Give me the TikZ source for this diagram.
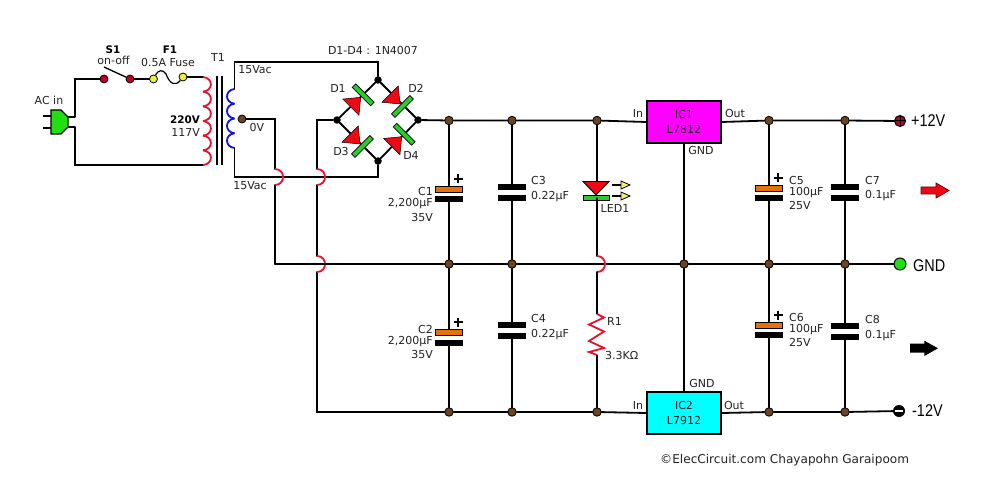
\documentclass[tikz,border=0pt]{standalone}
\usepackage{fontspec}
\setmainfont{DejaVu Sans}
\newfontfamily\narrowfont{Liberation Sans}
\definecolor{brn}{HTML}{6B4423}
\definecolor{capor}{HTML}{E8710A}
\definecolor{redc}{HTML}{E8102A}
\definecolor{grn}{HTML}{22E010}
\definecolor{dgrn}{HTML}{2FC82F}
\definecolor{darkred}{HTML}{C00020}
\definecolor{yel}{HTML}{EFEF40}
\definecolor{lbl}{HTML}{222222}
\definecolor{icm}{HTML}{FF00FF}
\definecolor{icc}{HTML}{00FFFF}
\definecolor{bluec}{HTML}{1010E0}
\definecolor{trired}{HTML}{EE0A14}
\tikzset{
  x=1pt,y=-1pt,
  wire/.style={line width=1.8pt,black,line cap=round},
  redwire/.style={line width=1.8pt,redc},
  bluewire/.style={line width=1.8pt,bluec},
  dotb/.style={circle,fill=brn,draw=black,line width=.8pt,minimum size=8.5pt,inner sep=0pt},
  dotk/.style={circle,fill=black,minimum size=7.5pt,inner sep=0pt},
  dotr/.style={circle,fill=darkred,draw=black,line width=.8pt,minimum size=8pt,inner sep=0pt},
  doty/.style={circle,fill=yel,draw=black,line width=.8pt,minimum size=8pt,inner sep=0pt},
  lab/.style={inner sep=0pt,font=\fontsize{11}{12}\selectfont,text=lbl},
  labb/.style={inner sep=0pt,font=\fontsize{10.4}{12}\bfseries\selectfont,text=black},
  big/.style={inner sep=0pt,anchor=west,font=\narrowfont\fontsize{17}{19}\selectfont,text=black,xscale=.85},
  platek/.style={fill=black,minimum width=27.5pt,minimum height=5.5pt,inner sep=0pt},
  plateo/.style={fill=capor,draw=black,line width=.9pt,minimum width=27pt,minimum height=6pt,inner sep=0pt},
  icbox/.style={draw=black,line width=1.6pt,minimum width=74pt,minimum height=42pt,inner sep=0pt,align=center,
    font=\fontsize{11}{15.5}\selectfont,text=lbl},
  dbar/.style={draw=black,fill=dgrn,line width=.7pt},
  dtri/.style={draw=black,fill=trired,line width=.5pt},
  pt/.style={inner sep=0pt,minimum size=0pt},
}
\newcommand{\mydiode}[2]{% tip position, screen angle of forward current
  \begin{scope}[shift={(#1)},rotate=#2]
    \path[dtri] (-14,-11.5) -- (-14,11.5) -- (0,0) -- cycle;
    \path[dbar] (1,-13) rectangle (6,13);
  \end{scope}}
\newcommand{\hoparc}[2]{\draw[redwire] (#1,#2) .. controls (#1+10.7,#2) and (#1+10.7,#2+16) .. (#1,#2+16);}
\begin{document}
\begin{tikzpicture}
\useasboundingbox (0,0) rectangle (1000,486);
% junction nodes
\node[dotk] (bt) at (378,80) {};
\node[dotk] (bl) at (337,120) {};
\node[dotk] (br) at (418,120) {};
\node[dotk] (bb) at (378,161) {};
\foreach \n/\x in {a1/449,a2/512,a3/597,a4/769,a5/845}{\node[dotb] (\n) at (\x,120.5) {};}
\foreach \n/\x in {g0/449,g1/512,g2/684,g3/769,g4/845}{\node[dotb] (\n) at (\x,264) {};}
\foreach \n/\x in {b1/449,b2/512,b3/597,b4/769,b5/845}{\node[dotb] (\n) at (\x,412) {};}
\node[icbox,fill=icm] (ic1) at (684,122) {IC1\\L7812};
\node[icbox,fill=icc] (ic2) at (684,413) {IC2\\L7912};
% terminals
\node[circle,fill=darkred,draw=black,line width=1pt,minimum size=11pt,inner sep=0pt] (tp) at (900,121) {};
\node[circle,fill=grn,draw=black,line width=1pt,minimum size=12pt,inner sep=0pt] (tg) at (900,264) {};
\node[circle,fill=black,minimum size=12pt,inner sep=0pt] (tm) at (899,411) {};
% switch, fuse
\node[dotr] (s1a) at (104,79) {};
\node[dotr] (s1b) at (130,79) {};
\node[doty] (f1a) at (153.5,79) {};
\node[doty] (f1b) at (183,77) {};
\coordinate (leverend) at (104,67);
\coordinate (pt) at (203,77);
\coordinate (pb) at (203,165);
\coordinate (pl1) at (75,117);
\coordinate (pl2) at (75,127);
\coordinate (st) at (234.5,89);
\coordinate (sb) at (234.5,148);
\node[circle,fill=brn,draw=black,line width=.8pt,minimum size=8pt,inner sep=0pt] (ct) at (242,119) {};
% plug
\draw[line width=1.4pt] (43,116) -- (51,116) (43,128) -- (51,128) (68,117) -- (pl1) (68,127) -- (pl2);
\path[fill=grn,draw=black,line width=1.4pt] (51,110) -- (61,110) -- (68,117) -- (68,127) -- (61,134) -- (51,134) -- cycle;
% primary wiring
\draw[wire] (pl1) -- (75,79) -- (s1a);
\draw[wire] (pl2) -- (75,165) -- (pb);
\draw[wire] (s1b) -- (f1a);
\draw[wire] (f1b) -- (pt);
\draw[line width=1.3pt] (leverend) -- (s1b);
\draw[line width=1.2pt] (f1a) .. controls (158,70) and (163,69) .. (166,74) .. controls (170,85) and (176,86) .. (f1b);
% primary coil
\foreach \i in {0,...,5}{
  \draw[redwire] (203,{77+\i*14.67}) .. controls (213.5,{78+\i*14.67}) and (213.5,{76+(\i+1)*14.67}) .. (203,{77+(\i+1)*14.67});
}
% core
\draw[line width=1.5pt] (217,76) -- (217,165) (222,76) -- (222,165);
% secondary coil
\foreach \i in {0,...,3}{
  \draw[bluewire] (234.5,{89+\i*14.75}) .. controls (224.5,{90+\i*14.75}) and (224.5,{88+(\i+1)*14.75}) .. (234.5,{89+(\i+1)*14.75});
}
% secondary wiring
\draw[wire] (st) -- (234.5,62) -- (378,62) -- (bt);
\draw[wire] (sb) -- (234.5,177) -- (378,177) -- (bb);
\draw[wire] (ct) -- (275,119) -- (275,169);
\draw[wire] (275,185) -- (275,264);
\hoparc{275}{169}
\draw[wire] (bl) -- (317,120) -- (317,169);
\draw[wire] (317,185) -- (317,256);
\draw[wire] (317,272) -- (317,412) -- (b1);
\hoparc{317}{169}
\hoparc{317}{256}
\draw[wire] (275,264) -- (g0) -- (g1) -- (g2) -- (g3) -- (g4) -- (tg);
% bridge
\draw[wire] (bt) -- (bl) -- (bb) -- (br) -- (bt);
\mydiode{360.7,97.3}{45}
\mydiode{400,104}{-45}
\mydiode{360,144}{-45}
\mydiode{401.7,136.7}{45}
% rails
\draw[wire] (br) -- (a1) -- (a2) -- (a3) -- (ic1.west);
\draw[wire] (ic1.east) -- (a4) -- (a5) -- (tp);
\draw[wire] (b1) -- (b2) -- (b3) -- (ic2.west);
\draw[wire] (ic2.east) -- (b4) -- (b5) -- (tm);
\draw[wire] (ic1.south) -- (g2) -- (ic2.north);
\draw[black,line width=1pt] (tp.north) -- (tp.south) (tp.west) -- (tp.east);
\draw[white,line width=1.6pt] (895,411) -- (903,411);
% capacitors: plates are nodes
\foreach \n/\x/\ya/\yb/\ra/\rb in {c1/449/189/199/a1/g0,c2/449/332/343/g0/b1,c5/769/188/198/a4/g3,c6/769/325/335/g3/b4}{
  \node[plateo] (\n p) at (\x,\ya) {};
  \node[platek] (\n n) at (\x,\yb) {};
  \draw[wire] (\ra) -- (\n p);
  \draw[wire] (\n n) -- (\rb);
}
\foreach \n/\x/\ya/\yb/\ra/\rb in {c3/512/187/198/a2/g1,c4/512/325/336/g1/b2,c7/845/187/198/a5/g4,c8/845/326/337/g4/b5}{
  \node[platek] (\n p) at (\x,\ya) {};
  \node[platek] (\n n) at (\x,\yb) {};
  \draw[wire] (\ra) -- (\n p);
  \draw[wire] (\n n) -- (\rb);
}
\foreach \x/\y in {458/179,458/322,778/178,778/315}{
  \draw[line width=1.8pt] (\x-4.5,\y) -- (\x+4.5,\y) (\x,\y-4.5) -- (\x,\y+4.5);
}
% LED
\node[pt] (ledt) at (597,181) {};
\node[pt] (ledb) at (597,198) {};
\coordinate (hopled) at (597,256);
\draw[wire] (a3) -- (ledt);
\path[dtri,line width=.9pt] (583,181.5) -- (609,181.5) -- (596,195) -- cycle;
\path[draw=black,fill=dgrn,line width=.9pt] (583,195.5) rectangle (609,200);
\draw[wire] (ledb) -- (hopled);
\hoparc{597}{256}
\foreach \y in {185,196}{
  \draw[line width=1.1pt] (612,\y) -- (621,\y);
  \path[fill=yel!80!white,draw=black,line width=.8pt] (621,\y-4) -- (630,\y) -- (621,\y+4) -- cycle;
}
% R1
\node[pt] (rt) at (597,314) {};
\node[pt] (rb) at (597,355) {};
\draw[wire] (597,272) -- (rt);
\draw[redwire,line join=miter] (rt) -- (604,317.5) -- (589,324.5) -- (604,331.5) -- (589,341) -- (604,348) -- (589,352) -- (rb);
\draw[wire] (rb) -- (b3);
% output arrows
\path[fill=trired,draw=black!60!red,line width=.7pt] (921,187) -- (936,187) -- (936,183) -- (949,190.5) -- (936,198) -- (936,194) -- (921,194) -- cycle;
\path[fill=black] (910,343.7) -- (924.3,343.7) -- (924.3,340.7) -- (938,348.3) -- (924.3,356) -- (924.3,352.7) -- (910,352.7) -- cycle;
% labels
\node[labb] (tS1) at (113,50) {S1};
\node[lab] (tS2) at (113.5,60.5) {on-off};
\node[labb] (tF1) at (170,50) {F1};
\node[lab] (tF2) at (168,62) {0.5A Fuse};
\node[lab] (tT1) at (218,57) {T1};
\node[lab] (tAC) at (49,100) {AC in};
\node[labb,anchor=east] (t220) at (200,120) {220V};
\node[lab,anchor=east] (t117) at (200,132) {117V};
\node[lab] (tv1) at (255,70) {15Vac};
\node[lab] (tv0) at (257,127) {0V};
\node[lab] (tv2) at (250,186) {15Vac};
\node[lab] (tbr) at (373,50) {D1-D4 : 1N4007};
\node[lab] (tD1) at (338,88) {D1};
\node[lab] (tD2) at (416,88) {D2};
\node[lab] (tD3) at (341,151) {D3};
\node[lab] (tD4) at (411,155) {D4};
\node[lab,anchor=east] (tC1) at (433,191) {C1};
\node[lab,anchor=east] (tC1a) at (433,204) {2,200µF};
\node[lab,anchor=east] (tC1b) at (433,217) {35V};
\node[lab,anchor=east] (tC2) at (433,329) {C2};
\node[lab,anchor=east] (tC2a) at (433,342) {2,200µF};
\node[lab,anchor=east] (tC2b) at (433,354) {35V};
\node[lab,anchor=west] (tC3) at (531,180) {C3};
\node[lab,anchor=west] (tC3a) at (531,197) {0.22µF};
\node[lab,anchor=west] (tC4) at (531,318) {C4};
\node[lab,anchor=west] (tC4a) at (531,335) {0.22µF};
\node[lab] (tLED) at (615,208) {LED1};
\node[lab,anchor=west] (tR1) at (607,321) {R1};
\node[lab,anchor=west] (tR1a) at (605,355) {3.3KΩ};
\node[lab] (tIn1) at (638,113) {In};
\node[lab] (tOut1) at (735,113) {Out};
\node[lab] (tG1) at (701,150) {GND};
\node[lab] (tIn2) at (638,405) {In};
\node[lab] (tOut2) at (734,405) {Out};
\node[lab] (tG2) at (702,383) {GND};
\node[lab,anchor=west] (tC5) at (789,180) {C5};
\node[lab,anchor=west] (tC5a) at (789,193) {100µF};
\node[lab,anchor=west] (tC5b) at (789,205) {25V};
\node[lab,anchor=west] (tC6) at (789,317) {C6};
\node[lab,anchor=west] (tC6a) at (789,330) {100µF};
\node[lab,anchor=west] (tC6b) at (789,342) {25V};
\node[lab,anchor=west] (tC7) at (865,180) {C7};
\node[lab,anchor=west] (tC7a) at (865,196) {0.1µF};
\node[lab,anchor=west] (tC8) at (865,319) {C8};
\node[lab,anchor=west] (tC8a) at (865,336) {0.1µF};
\node[big] (t12p) at (911,121) {+12V};
\node[big] (tgnd) at (913,266) {GND};
\node[big] (t12m) at (912,411) {-12V};
\node[lab,anchor=west,font=\fontsize{12.1}{13}\selectfont] (tcr) at (660,460) {©ElecCircuit.com Chayapohn Garaipoom};
\end{tikzpicture}
\end{document}
